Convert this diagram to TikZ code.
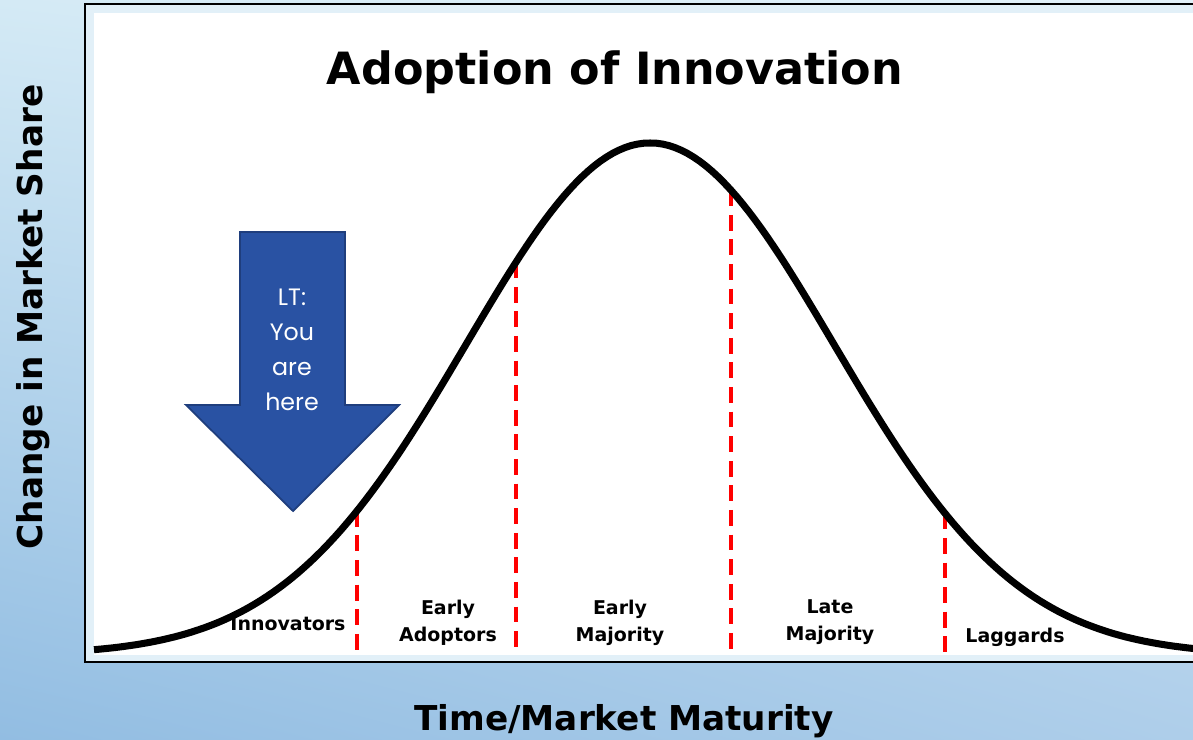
\documentclass[tikz,border=0pt]{standalone}
\usepackage{fontspec}
\setmainfont{DejaVu Sans}
\newfontfamily\notefont{Poppins}
\usetikzlibrary{shadings}

\definecolor{bgtl}{RGB}{212,234,245}
\definecolor{bgtr}{RGB}{226,241,249}
\definecolor{bgbl}{RGB}{146,189,226}
\definecolor{bgbr}{RGB}{174,206,234}
\definecolor{bandblue}{RGB}{226,240,248}
\definecolor{arrowblue}{RGB}{41,82,163}
\definecolor{arrowedge}{RGB}{31,62,125}

% bell curve, in pixel units
\def\peak{650}
\def\spread{184}
\def\base{655}
\def\height{512}

\tikzset{
  stage/.style={font=\bfseries\fontsize{10.8}{15.3}\selectfont, align=center},
  axislabel/.style={font=\bfseries\fontsize{19.5}{23}\selectfont},
  split/.style={red, line width=2.3pt, dash pattern=on 9pt off 5pt},
}

\begin{document}
\begin{tikzpicture}[x=0.02cm, y=-0.02cm]
  \useasboundingbox (0,0) rectangle (1193,740);
  \shade[upper left=bgtl, upper right=bgtr, lower left=bgbl, lower right=bgbr] (0,0) rectangle (1193,740);
  \draw[line width=1.1pt, fill=bandblue] (85,4) rectangle (1230,662);
  \fill[white] (94,13) rectangle (1230,655);

  % stage borders, dashed down from the curve
  \foreach \x [count=\i] in {357,516,731,945} {
    \coordinate (top\i) at (\x, {\base-\height*exp(-0.5*((\x-\peak)/\spread)^2)});
    \coordinate (bot\i) at (\x, \base);
    \draw[split] (top\i) -- (bot\i);
  }
  \draw[line width=4pt] plot[domain=94:1200, samples=180]
    (\x, {\base-\height*exp(-0.5*((\x-\peak)/\spread)^2)});

  \node[font=\bfseries\fontsize{25.3}{30}\selectfont, anchor=base] (title) at (615,85) {Adoption of Innovation};

  \node[stage, anchor=base] (innov) at (288,630) {Innovators};
  \node[stage] (adopt) at (448,623) {Early\\Adoptors};
  \node[stage] (earlymaj) at (620,623) {Early\\Majority};
  \node[stage] (latemaj) at (830,622) {Late\\Majority};
  \node[stage, anchor=base] (lag) at (1015,642) {Laggards};

  % you-are-here arrow
  \draw[fill=arrowblue, draw=arrowedge, line width=1pt]
    (240,232) -- (345,232) -- (345,405) -- (399,405) -- (293,511)
    -- (186,405) -- (240,405) -- cycle;
  \node[font=\notefont\fontsize{13.5}{20}\selectfont, text=white, align=center] (here) at (292,350) {LT:\\You\\are\\here};

  \node[axislabel, anchor=base] (xlabel) at (624,730) {Time/Market Maturity};
  \node[axislabel, anchor=base, rotate=90] (ylabel) at (42,317) {Change in Market Share};
\end{tikzpicture}
\end{document}
